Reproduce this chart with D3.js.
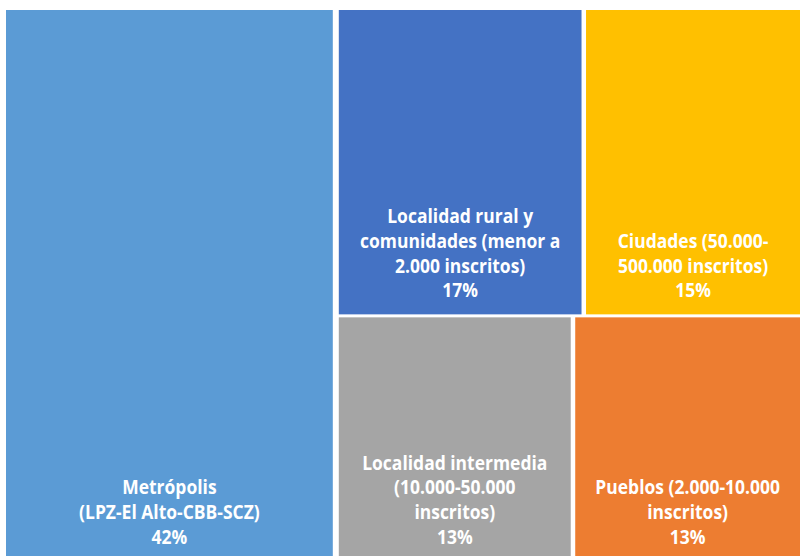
<!DOCTYPE html>
<html><head><meta charset="utf-8">
<script src="https://cdn.jsdelivr.net/npm/d3@7"></script>
<style>html,body{margin:0;padding:0;background:#fff;overflow:hidden;}svg{display:block;}</style>
</head><body>
<svg id="chart" width="800" height="556"></svg>
<script>
// Data
const categories = ["Metrópolis", "Localidad rural", "Ciudades", "Localidad intermedia", "Pueblos"];
const values = [41.6, 17.2, 15.2, 13.2, 12.8];
const labelLines = [
  ["Metrópolis", "(LPZ-El Alto-CBB-SCZ)"],
  ["Localidad rural y", "comunidades (menor a", "2.000 inscritos)"],
  ["Ciudades (50.000-", "500.000 inscritos)"],
  ["Localidad intermedia", "(10.000-50.000", "inscritos)"],
  ["Pueblos (2.000-10.000", "inscritos)"]
];
const colors = ["#5B9BD5", "#4472C4", "#FFC000", "#A5A5A5", "#ED7D31"];
// grouping (column, then two rows) as laid out in the reference
const rows = [[1, 2], [3, 4]];

const leaf = i => ({name: categories[i], value: values[i], idx: i});
const data = {name: "root", children: [
  leaf(0),
  {name: "rest", children: rows.map((r, k) => ({name: "row" + k, children: r.map(leaf)}))}
]};

const svg = d3.select("#chart");
const x0 = 6, y0 = 10, W = 794, H = 551;
const root = d3.hierarchy(data).sum(d => d.value || 0);
d3.treemap()
  .tile(d3.treemapSliceDice)
  .size([W, H])
  .paddingInner(d => d.depth === 0 ? 6 : d.depth === 1 ? 3 : 4.5)
  .round(false)(root);

const g = svg.append("g").attr("transform", `translate(${x0},${y0})`);
const leaves = root.leaves();
const cell = g.selectAll("g.cell").data(leaves).join("g").attr("class", "cell");
cell.append("rect")
  .attr("x", d => d.x0).attr("y", d => d.y0)
  .attr("width", d => d.x1 - d.x0).attr("height", d => d.y1 - d.y0)
  .attr("fill", d => colors[d.data.idx]);

const lh = 24.8;
cell.each(function(d) {
  const i = d.data.idx;
  const lines = labelLines[i].concat([Math.round(values[i]) + "%"]);
  const cx = (d.x0 + d.x1) / 2;
  const bottom = d.y1 - 17;
  const t = d3.select(this).append("text")
    .attr("transform", `translate(${cx},0) scale(0.92,1)`)
    .attr("text-anchor", "middle")
    .attr("fill", "#fff")
    .attr("font-family", "'Open Sans', sans-serif")
    .attr("font-weight", "bold")
    .attr("font-size", 19);
  lines.forEach((l, k) => {
    t.append("tspan").attr("x", 0).attr("y", bottom - (lines.length - 1 - k) * lh).text(l);
  });
});
</script>
</body></html>
